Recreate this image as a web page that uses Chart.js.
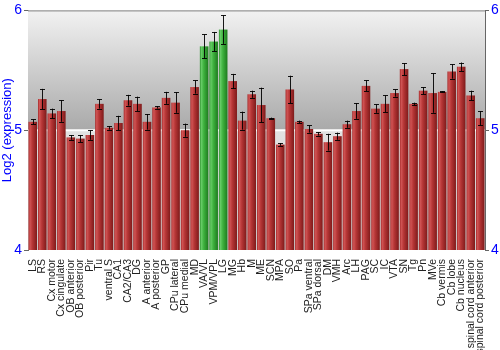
<!DOCTYPE html>
<html><head><meta charset="utf-8">
<script src="https://cdn.jsdelivr.net/npm/chart.js@4"></script>
<style>html,body{margin:0;padding:0;background:#fff}#wrap{width:500px;height:350px}</style>
</head><body><div id="wrap"><canvas id="c" width="500" height="350"></canvas></div>
<script>
const categories = ["LS","RS","Cx motor","Cx cingulate","OB anterior","OB posterior","Pir","Tu","ventral S","CA1","CA2/CA3","DG","A anterior","A posterior","GP","CPu lateral","CPu medial","MD","VA/VL","VPM/VPL","LG","MG","Hb","M","ME","SCN","MPA","SO","Pa","SPa ventral","SPa dorsal","DM","VMH","Arc","LH","PAG","SC","IC","VTA","SN","Tg","Pn","MVe","Cb vermis","Cb lobe","Cb nucleus","spinal cord anterior","spinal cord posterior"];
const values = [5.07,5.26,5.14,5.16,4.94,4.93,4.96,5.22,5.02,5.06,5.25,5.22,5.07,5.19,5.27,5.23,5.00,5.36,5.70,5.74,5.84,5.41,5.08,5.30,5.21,5.10,4.88,5.34,5.07,5.01,4.97,4.90,4.95,5.05,5.16,5.37,5.18,5.22,5.31,5.51,5.22,5.33,5.31,5.32,5.49,5.53,5.29,5.10];
const errors = [0.02,0.085,0.04,0.09,0.02,0.03,0.04,0.04,0.015,0.06,0.045,0.06,0.065,0.01,0.05,0.085,0.055,0.055,0.1,0.08,0.12,0.06,0.075,0.03,0.145,0.005,0.01,0.115,0.01,0.03,0.015,0.07,0.03,0.03,0.065,0.045,0.035,0.07,0.03,0.05,0.01,0.03,0.165,0.005,0.06,0.035,0.04,0.06];
const highlighted = ["VA/VL","VPM/VPL","LG"];
const yTicks = [4,5,6];
</script>
<script>
const BLUE = '#0000ff';
const bgPlugin = {
  id:'bg',
  beforeDatasetsDraw(chart){
    const {ctx, chartArea:a, scales} = chart;
    const y5 = scales.y.getPixelForValue(5);
    ctx.save();
    let g = ctx.createLinearGradient(0,a.top,0,y5);
    g.addColorStop(0,'#f2f2f2'); g.addColorStop(1,'#a9a9a9');
    ctx.fillStyle = g; ctx.fillRect(a.left,a.top,a.right-a.left,y5-a.top);
    g = ctx.createLinearGradient(0,y5,0,a.bottom);
    g.addColorStop(0,'#e2e2e2'); g.addColorStop(1,'#cccccc');
    ctx.fillStyle = g; ctx.fillRect(a.left,y5,a.right-a.left,a.bottom-y5);
    ctx.strokeStyle='#ffffff'; ctx.lineWidth=2;
    ctx.beginPath(); ctx.moveTo(a.left,y5); ctx.lineTo(a.right,y5); ctx.stroke();
    ctx.strokeStyle='#808080'; ctx.lineWidth=1;
    ctx.beginPath(); ctx.moveTo(a.left,a.top+0.5); ctx.lineTo(a.right,a.top+0.5); ctx.stroke();
    ctx.restore();
  },
  afterDatasetsDraw(chart){
    const {ctx, scales} = chart;
    const meta = chart.getDatasetMeta(0);
    const bot = scales.y.getPixelForValue(yTicks[0]);
    ctx.save();
    meta.data.forEach((el,i)=>{
      const w = el.width, x0 = el.x - w/2;
      const top = scales.y.getPixelForValue(values[i]);
      const green = highlighted.includes(categories[i]);
      const g = ctx.createLinearGradient(x0,0,x0+w,0);
      if(green){
        g.addColorStop(0,'#2f8f2f'); g.addColorStop(0.18,'#66cc66'); g.addColorStop(0.45,'#3fb23f'); g.addColorStop(1,'#1d7a1d');
      } else {
        g.addColorStop(0,'#a52a2a'); g.addColorStop(0.18,'#d05454'); g.addColorStop(0.45,'#b63636'); g.addColorStop(1,'#7e1a1a');
      }
      ctx.fillStyle = g;
      ctx.fillRect(x0, top, w, bot-top);
      const yHi = scales.y.getPixelForValue(values[i]+errors[i]);
      const yLo = scales.y.getPixelForValue(values[i]-errors[i]);
      ctx.strokeStyle='rgba(0,0,0,0.9)'; ctx.lineWidth=1;
      const cx = Math.round(el.x)+0.5;
      ctx.beginPath();
      ctx.moveTo(cx,yHi); ctx.lineTo(cx,yLo);
      ctx.moveTo(cx-2.5,Math.round(yHi)+0.5); ctx.lineTo(cx+2.5,Math.round(yHi)+0.5);
      ctx.moveTo(cx-2.5,Math.round(yLo)+0.5); ctx.lineTo(cx+2.5,Math.round(yLo)+0.5);
      ctx.stroke();
    });
    ctx.restore();
  }
};
new Chart(document.getElementById('c'),{
  type:'bar',
  data:{labels:categories,datasets:[{data:values,backgroundColor:'rgba(0,0,0,0)',barPercentage:0.9,categoryPercentage:1.0}]},
  options:{
    responsive:false,animation:false,
    layout:{padding:{top:10,right:0,left:0,bottom:0}},
    plugins:{legend:{display:false},tooltip:{enabled:false}},
    scales:{
      x:{
        grid:{display:false},
        border:{display:false},
        ticks:{autoSkip:false,maxRotation:90,minRotation:90,color:'#222',font:{family:'Liberation Sans',size:10.5},padding:1},
        afterFit(s){s.height=100;}
      },
      y:{
        position:'left',min:4,max:6,
        afterBuildTicks(s){s.ticks=yTicks.map(v=>({value:v}));},
        ticks:{color:BLUE,font:{family:'Liberation Sans',size:14},padding:2},
        grid:{drawOnChartArea:false,tickLength:4,tickColor:'#666'},
        border:{display:true,color:'#666'},
        title:{display:true,text:'Log2 (expression)',color:BLUE,font:{family:'Liberation Sans',size:13},padding:0},
        afterFit(s){s.width=28;}
      },
      y2:{
        position:'right',min:4,max:6,
        afterBuildTicks(s){s.ticks=yTicks.map(v=>({value:v}));},
        ticks:{color:BLUE,font:{family:'Liberation Sans',size:14},padding:2},
        grid:{drawOnChartArea:false,tickLength:4,tickColor:'#666'},
        border:{display:true,color:'#666'},
        afterFit(s){s.width=15;}
      }
    }
  },
  plugins:[bgPlugin]
});
</script>
</body></html>
